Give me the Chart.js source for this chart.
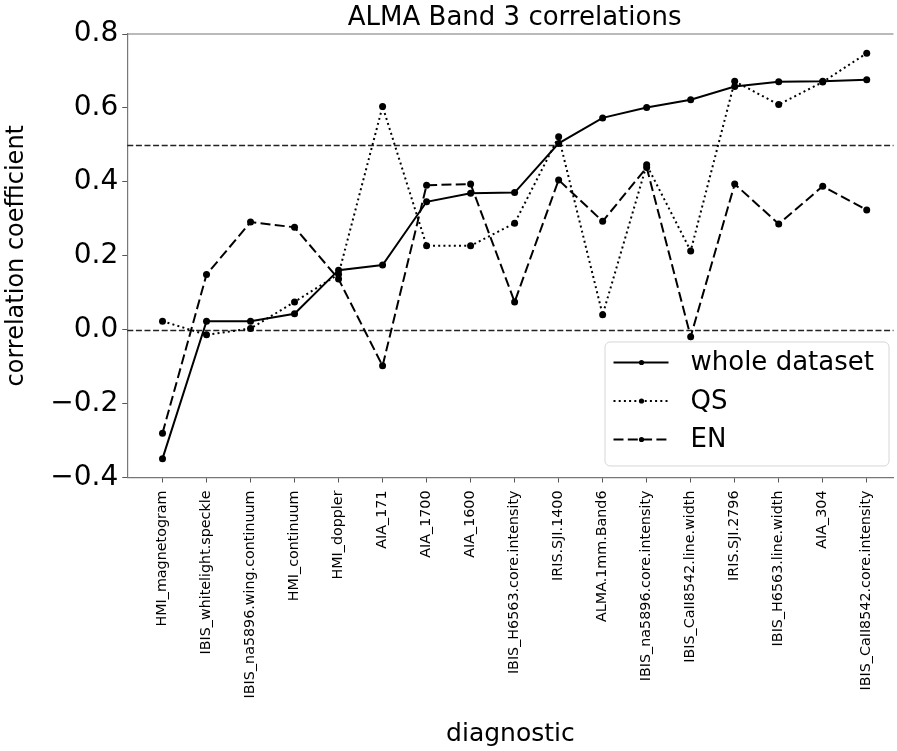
<!DOCTYPE html>
<html>
<head>
<meta charset="utf-8">
<title>ALMA Band 3 correlations</title>
<script src="https://cdn.jsdelivr.net/npm/chart.js@4.4.1/dist/chart.umd.min.js"></script>
<style>
  html, body { margin: 0; padding: 0; background: #fff; overflow: hidden; }
  #wrap { width: 897px; height: 751px; }
</style>
</head>
<body>
<div id="wrap"><canvas id="corrChart" width="897" height="751"></canvas></div>
<script>
const categories = [
  'HMI_magnetogram', 'IBIS_whitelight.speckle', 'IBIS_na5896.wing.continuum', 'HMI_continuum',
  'HMI_doppler', 'AIA_171', 'AIA_1700', 'AIA_1600', 'IBIS_H6563.core.intensity', 'IRIS.SJI.1400',
  'ALMA.1mm.Band6', 'IBIS_na5896.core.intensity', 'IBIS_CaII8542.line.width', 'IRIS.SJI.2796',
  'IBIS_H6563.line.width', 'AIA_304', 'IBIS_CaII8542.core.intensity'
];
const wholeDataset = [-0.349, 0.023, 0.023, 0.043, 0.161, 0.175, 0.346, 0.369, 0.371, 0.504, 0.573, 0.601, 0.622, 0.658, 0.671, 0.672, 0.676];
const qsValues     = [0.023, -0.014, 0.003, 0.075, 0.150, 0.604, 0.227, 0.227, 0.288, 0.522, 0.040, 0.446, 0.213, 0.672, 0.609, 0.670, 0.748];
const enValues     = [-0.280, 0.149, 0.291, 0.277, 0.137, -0.098, 0.391, 0.394, 0.075, 0.405, 0.293, 0.439, -0.019, 0.394, 0.286, 0.388, 0.324];
const refLines = [0, 0.5];
const yTicks = [-0.4, -0.2, 0, 0.2, 0.4, 0.6, 0.8];

const FONT = '"DejaVu Sans", sans-serif';
const toXY = arr => arr.map((v, i) => ({ x: i, y: v }));

function series(label, values, dash) {
  return {
    label, data: toXY(values),
    borderColor: '#000', backgroundColor: '#000',
    borderWidth: 2, borderDash: dash, borderCapStyle: 'butt',
    pointRadius: 3.5, pointHoverRadius: 3.5, pointBorderWidth: 0,
    tension: 0, fill: false
  };
}

// dashed reference lines, the top spine and the title
const extras = {
  id: 'extras',
  beforeDatasetsDraw(chart) {
    const { ctx, chartArea: a, scales: { y } } = chart;
    ctx.save();
    ctx.strokeStyle = '#222';
    ctx.lineWidth = 1.5;
    ctx.setLineDash([6, 2.6]);
    refLines.forEach(v => {
      const py = Math.round(y.getPixelForValue(v)) + 0.5;
      ctx.beginPath(); ctx.moveTo(a.left, py); ctx.lineTo(a.right, py); ctx.stroke();
    });
    ctx.restore();
  },
  afterDraw(chart) {
    const { ctx, chartArea: a, scales: { x } } = chart;
    ctx.save();
    ctx.strokeStyle = '#777';
    ctx.lineWidth = 1.2;
    ctx.beginPath(); ctx.moveTo(a.left, a.top); ctx.lineTo(a.right, a.top); ctx.stroke();
    ctx.fillStyle = '#000';
    ctx.font = '26px ' + FONT;
    ctx.textAlign = 'center';
    ctx.textBaseline = 'alphabetic';
    ctx.fillText('ALMA Band 3 correlations', x.getPixelForValue((categories.length - 1) / 2), 25);
    ctx.restore();
  }
};

// legend box in the lower right corner of the plot
const boxLegend = {
  id: 'boxLegend',
  afterDraw(chart) {
    const { ctx, chartArea: a } = chart;
    const bx = a.right - 289, by = a.bottom - 136, bw = 284, bh = 124;
    ctx.save();
    ctx.beginPath();
    ctx.roundRect(bx + 0.5, by + 0.5, bw, bh, 5);
    ctx.fillStyle = 'rgba(255,255,255,0.85)';
    ctx.fill();
    ctx.strokeStyle = '#d6d6d6';
    ctx.lineWidth = 1;
    ctx.stroke();
    chart.data.datasets.forEach((ds, i) => {
      const ry = by + 21 + i * 38.5;
      ctx.strokeStyle = ds.borderColor;
      ctx.lineWidth = ds.borderWidth;
      ctx.setLineDash(ds.borderDash || []);
      ctx.beginPath(); ctx.moveTo(bx + 9, ry); ctx.lineTo(bx + 64, ry); ctx.stroke();
      ctx.setLineDash([]);
      ctx.fillStyle = ds.backgroundColor;
      ctx.beginPath(); ctx.arc(bx + 37, ry, 2.6, 0, Math.PI * 2); ctx.fill();
      ctx.font = '26px ' + FONT;
      ctx.textAlign = 'left';
      ctx.textBaseline = 'middle';
      ctx.fillText(ds.label, bx + 86, ry + 1);
    });
    ctx.restore();
  }
};

const chart = new Chart(document.getElementById('corrChart'), {
  type: 'line',
  data: {
    datasets: [
      series('whole dataset', wholeDataset, []),
      series('QS', qsValues, [2, 3.2]),
      series('EN', enValues, [10, 4.3])
    ]
  },
  options: {
    responsive: false,
    animation: false,
    devicePixelRatio: 1,
    layout: { padding: { top: 34, right: 0, left: 0, bottom: 2 } },
    plugins: { legend: { display: false }, tooltip: { enabled: false } },
    scales: {
      x: {
        type: 'linear',
        min: -0.8, max: 16.608,
        afterBuildTicks: s => { s.ticks = categories.map((c, i) => ({ value: i })); },
        ticks: {
          autoSkip: false, maxRotation: 90, minRotation: 90,
          color: '#000', font: { family: FONT, size: 14.3 }, padding: 8,
          callback: v => categories[v]
        },
        grid: { drawOnChartArea: false, drawTicks: true, tickLength: 5, color: '#555' },
        border: { display: true, color: '#777', width: 1.2 },
        title: { display: true, text: 'diagnostic', color: '#000', font: { family: FONT, size: 25 }, padding: { top: 12.6, bottom: 0 } }
      },
      y: {
        min: -0.4, max: 0.8,
        afterBuildTicks: s => { s.ticks = yTicks.map(v => ({ value: v })); },
        ticks: {
          color: '#000', font: { family: FONT, size: 28 }, padding: 4,
          callback: v => { const r = Math.round(v * 10) / 10; return (r < 0 ? '\u2212' : '') + Math.abs(r).toFixed(1); }
        },
        grid: { drawOnChartArea: false, drawTicks: true, tickLength: 5, color: '#555' },
        border: { display: true, color: '#777', width: 1.2 },
        title: { display: true, text: 'correlation coefficient', color: '#000', font: { family: FONT, size: 24 }, padding: { top: 2, bottom: 15.5 } }
      }
    }
  },
  plugins: [extras, boxLegend]
});
</script>
</body>
</html>
